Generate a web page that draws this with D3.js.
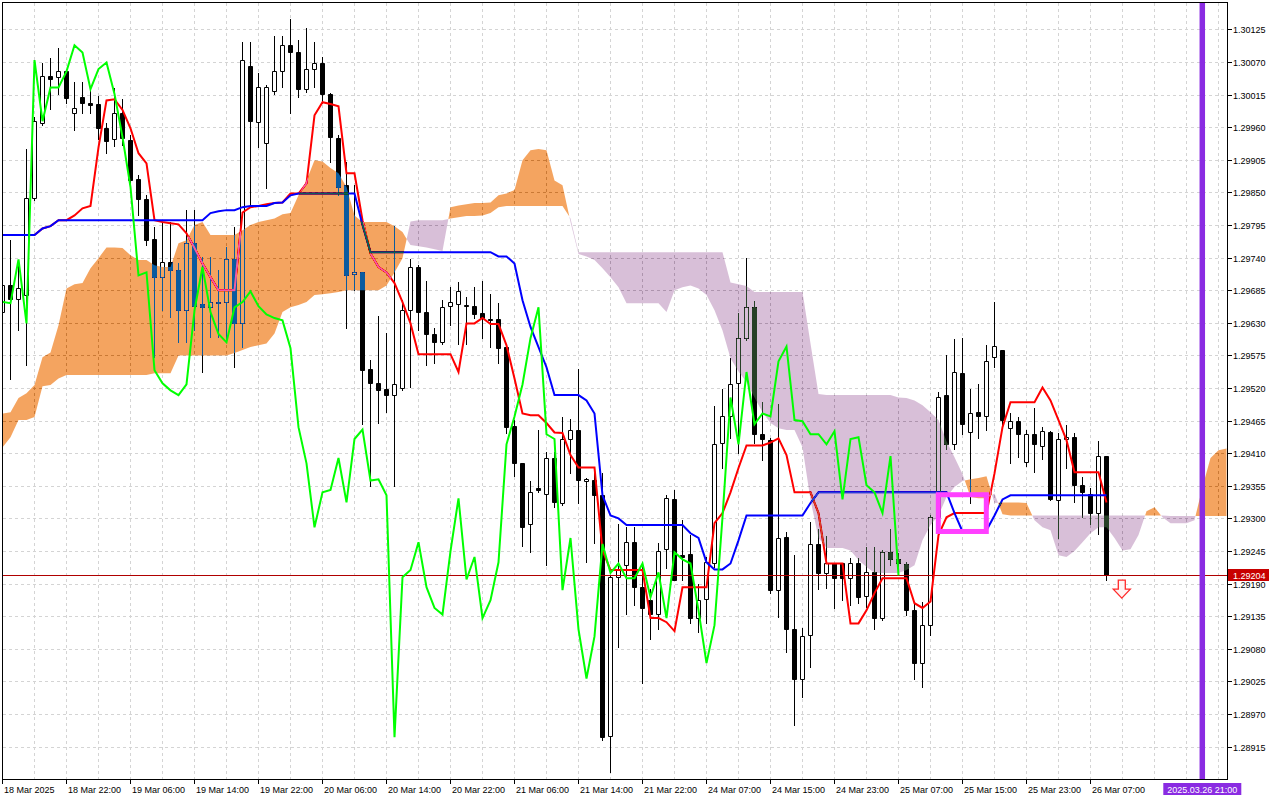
<!DOCTYPE html>
<html><head><meta charset="utf-8"><title>GBPUSD H1 Ichimoku</title>
<script src="https://cdn.jsdelivr.net/npm/d3@7/dist/d3.min.js"></script>
<style>html,body{margin:0;padding:0;background:#fff;overflow:hidden}svg{display:block}</style>
</head><body>
<svg id="chart" width="1280" height="800"></svg>
<script>
// ---------------- DATA (prices) ----------------
const openP=[
1.29648,1.29693,1.29670,1.29677,1.29840,1.29967,1.30046,1.30044,1.30054,1.29983,
1.30010,1.30000,1.29999,1.29958,1.29940,1.29983,1.29938,1.29872,1.29838,1.29771,
1.29707,1.29732,1.29719,1.29651,1.29764,1.29661,1.29656,1.29665,1.29665,1.29737,
1.29629,1.30063,1.29968,1.29934,1.30021,1.30054,1.30098,1.30086,1.30024,1.30058,
1.30069,1.30016,1.29941,1.29862,1.29712,1.29715,1.29552,1.29528,1.29518,1.29508,
1.29520,1.29651,1.29724,1.29648,1.29611,1.29597,1.29658,1.29661,1.29660,1.29658,
1.29646,1.29636,1.29636,1.29589,1.29456,1.29393,1.29290,1.29351,1.29341,1.29402,
1.29326,1.29434,1.29450,1.29363,1.29364,1.29339,1.28933,1.29201,1.29221,1.29260,
1.29184,1.29162,1.29138,1.29248,1.29332,1.29238,1.29240,1.29132,1.29164,1.29224,
1.29427,1.29472,1.29528,1.29604,1.29656,1.29442,1.29432,1.29179,1.29268,1.29113,
1.29030,1.29103,1.29257,1.29208,1.29224,1.29224,1.29199,1.29224,1.29169,1.29209,
1.29132,1.29243,1.29231,1.29223,1.29145,1.29056,1.29120,1.29302,1.29508,1.29425,
1.29545,1.29445,1.29479,1.29472,1.29572,1.29584,1.29452,1.29464,1.29395,1.29442,
1.29423,1.29445,1.29331,1.29434,1.29437,1.29356,1.29342,1.29309,1.29405];
const highP=[
1.29727,1.29769,1.29736,1.29923,1.29977,1.30069,1.30076,1.30093,1.30054,1.30036,
1.30036,1.30026,1.30012,1.29967,1.30026,1.30007,1.29946,1.29879,1.29845,1.29791,
1.29800,1.29800,1.29730,1.29820,1.29820,1.29741,1.29741,1.29719,1.29757,1.29791,
1.30103,1.30103,1.30051,1.30031,1.30113,1.30113,1.30142,1.30107,1.30127,1.30103,
1.30078,1.30017,1.29946,1.29901,1.29862,1.29715,1.29567,1.29641,1.29612,1.29793,
1.29668,1.29737,1.29727,1.29700,1.29621,1.29668,1.29690,1.29698,1.29673,1.29690,
1.29700,1.29678,1.29663,1.29592,1.29466,1.29393,1.29363,1.29449,1.29412,1.29412,
1.29471,1.29467,1.29552,1.29368,1.29376,1.29376,1.29204,1.29290,1.29285,1.29285,
1.29224,1.29181,1.29258,1.29339,1.29348,1.29297,1.29272,1.29189,1.29235,1.29489,
1.29518,1.29570,1.29646,1.29739,1.29666,1.29496,1.29435,1.29493,1.29277,1.29238,
1.29115,1.29294,1.29282,1.29270,1.29224,1.29224,1.29233,1.29233,1.29251,1.29251,
1.29246,1.29283,1.29241,1.29226,1.29159,1.29159,1.29305,1.29513,1.29575,1.29602,
1.29604,1.29518,1.29526,1.29592,1.29665,1.29584,1.29477,1.29471,1.29449,1.29486,
1.29454,1.29447,1.29444,1.29457,1.29444,1.29370,1.29351,1.29430,1.29405];
const lowP=[
1.29601,1.29536,1.29617,1.29558,1.29837,1.29963,1.29990,1.30016,1.30000,1.29955,
1.29983,1.29983,1.29940,1.29916,1.29928,1.29930,1.29862,1.29811,1.29761,1.29572,
1.29651,1.29639,1.29597,1.29597,1.29617,1.29547,1.29606,1.29606,1.29601,1.29555,
1.29589,1.29825,1.29926,1.29857,1.30016,1.30027,1.29983,1.30010,1.30019,1.30027,
1.30000,1.29902,1.29845,1.29622,1.29685,1.29459,1.29354,1.29461,1.29479,1.29354,
1.29516,1.29521,1.29617,1.29558,1.29563,1.29595,1.29626,1.29595,1.29594,1.29638,
1.29604,1.29589,1.29563,1.29444,1.29371,1.29253,1.29243,1.29344,1.29221,1.29319,
1.29322,1.29376,1.29326,1.29226,1.29258,1.28926,1.28872,1.29084,1.29138,1.29154,
1.29022,1.29096,1.29113,1.29216,1.29196,1.29196,1.29123,1.29108,1.29123,1.29218,
1.29385,1.29435,1.29410,1.29601,1.29427,1.29398,1.29175,1.29133,1.29074,1.28951,
1.28998,1.29049,1.29181,1.29182,1.29149,1.29162,1.29154,1.29157,1.29150,1.29113,
1.29128,1.29221,1.29213,1.29137,1.29029,1.29015,1.29103,1.29297,1.29417,1.29417,
1.29442,1.29326,1.29435,1.29449,1.29555,1.29452,1.29393,1.29403,1.29388,1.29378,
1.29401,1.29331,1.29267,1.29385,1.29327,1.29302,1.29290,1.29273,1.29196];
const closeP=[
1.29693,1.29670,1.29688,1.29840,1.29970,1.30046,1.30042,1.30054,1.30009,1.29992,
1.30000,1.29997,1.29958,1.29936,1.29983,1.29941,1.29870,1.29838,1.29769,1.29707,
1.29732,1.29719,1.29651,1.29764,1.29658,1.29656,1.29665,1.29663,1.29737,1.29629,
1.30073,1.29970,1.30027,1.30027,1.30054,1.30098,1.30086,1.30024,1.30058,1.30069,
1.30016,1.29943,1.29859,1.29710,1.29715,1.29550,1.29528,1.29516,1.29508,1.29526,
1.29651,1.29724,1.29648,1.29611,1.29597,1.29656,1.29665,1.29683,1.29658,1.29644,
1.29638,1.29634,1.29587,1.29454,1.29393,1.29285,1.29344,1.29348,1.29402,1.29327,
1.29434,1.29450,1.29364,1.29366,1.29339,1.28931,1.29201,1.29213,1.29260,1.29184,
1.29149,1.29138,1.29245,1.29334,1.29197,1.29235,1.29132,1.29162,1.29226,1.29425,
1.29472,1.29526,1.29604,1.29656,1.29442,1.29434,1.29179,1.29267,1.29113,1.29030,
1.29101,1.29257,1.29208,1.29224,1.29199,1.29199,1.29224,1.29167,1.29209,1.29132,
1.29243,1.29231,1.29224,1.29145,1.29056,1.29120,1.29302,1.29504,1.29425,1.29547,
1.29459,1.29477,1.29472,1.29565,1.29590,1.29466,1.29464,1.29442,1.29442,1.29425,
1.29447,1.29332,1.29434,1.29437,1.29356,1.29344,1.29309,1.29405,1.29204];
const tenkan=[
1.29778,1.29778,1.29778,1.29778,1.29778,1.29789,1.29793,1.29803,1.29803,1.29811,
1.29823,1.29827,1.29926,1.30005,1.30007,1.29989,1.29958,1.29916,1.29899,1.29803,
1.29800,1.29798,1.29796,1.29781,1.29756,1.29730,1.29707,1.29685,1.29685,1.29685,
1.29816,1.29825,1.29827,1.29830,1.29832,1.29833,1.29848,1.29848,1.29865,1.29980,
1.30002,1.29999,1.29995,1.29882,1.29882,1.29803,1.29747,1.29724,1.29715,1.29697,
1.29665,1.29629,1.29577,1.29577,1.29577,1.29577,1.29577,1.29547,1.29629,1.29629,
1.29638,1.29628,1.29628,1.29592,1.29536,1.29477,1.29474,1.29474,1.29461,1.29445,
1.29444,1.29407,1.29386,1.29386,1.29386,1.29246,1.29213,1.29213,1.29213,1.29213,
1.29213,1.29132,1.29132,1.29125,1.29110,1.29184,1.29184,1.29184,1.29184,1.29292,
1.29309,1.29344,1.29385,1.29423,1.29423,1.29423,1.29428,1.29435,1.29407,1.29344,
1.29344,1.29344,1.29309,1.29224,1.29224,1.29224,1.29123,1.29123,1.29145,1.29174,
1.29199,1.29199,1.29199,1.29199,1.29157,1.29149,1.29160,1.29272,1.29302,1.29309,
1.29309,1.29309,1.29309,1.29309,1.29376,1.29454,1.29496,1.29496,1.29496,1.29496,
1.29521,1.29499,1.29466,1.29432,1.29378,1.29378,1.29378,1.29378,1.29327];
const kijun=[
1.29778,1.29778,1.29778,1.29778,1.29778,1.29789,1.29793,1.29803,1.29803,1.29803,
1.29803,1.29803,1.29803,1.29803,1.29803,1.29803,1.29803,1.29803,1.29803,1.29803,
1.29803,1.29803,1.29803,1.29803,1.29803,1.29803,1.29815,1.29818,1.29820,1.29820,
1.29825,1.29827,1.29827,1.29827,1.29832,1.29833,1.29845,1.29848,1.29848,1.29848,
1.29848,1.29848,1.29848,1.29848,1.29848,1.29795,1.29749,1.29749,1.29749,1.29749,
1.29749,1.29749,1.29749,1.29749,1.29749,1.29749,1.29749,1.29749,1.29749,1.29749,
1.29749,1.29749,1.29742,1.29742,1.29730,1.29668,1.29623,1.29589,1.29555,1.29508,
1.29508,1.29508,1.29508,1.29499,1.29477,1.29339,1.29305,1.29300,1.29289,1.29289,
1.29289,1.29289,1.29289,1.29289,1.29289,1.29289,1.29275,1.29267,1.29226,1.29214,
1.29214,1.29224,1.29263,1.29305,1.29305,1.29305,1.29305,1.29305,1.29305,1.29305,
1.29305,1.29326,1.29344,1.29344,1.29344,1.29344,1.29344,1.29344,1.29344,1.29344,
1.29344,1.29344,1.29344,1.29344,1.29344,1.29344,1.29344,1.29344,1.29344,1.29309,
1.29278,1.29277,1.29277,1.29280,1.29305,1.29332,1.29339,1.29339,1.29339,1.29339,
1.29339,1.29339,1.29339,1.29339,1.29339,1.29339,1.29339,1.29339,1.29339];
const spanA=[
1.29477,1.29479,1.29503,1.29511,1.29525,1.29572,1.29580,1.29626,1.29688,1.29695,
1.29697,1.29722,1.29739,1.29757,1.29757,1.29756,1.29744,1.29736,1.29736,1.29727,
1.29724,1.29724,1.29764,1.29769,1.29795,1.29800,1.29778,1.29778,1.29778,1.29778,
1.29786,1.29795,1.29800,1.29803,1.29806,1.29813,1.29815,1.29845,1.29870,1.29904,
1.29902,1.29891,1.29882,1.29859,1.29811,1.29800,1.29800,1.29800,1.29800,1.29793,
1.29783,1.29761,1.29759,1.29757,1.29754,1.29751,1.29825,1.29828,1.29830,1.29832,
1.29832,1.29833,1.29845,1.29848,1.29854,1.29904,1.29921,1.29923,1.29921,1.29870,
1.29862,1.29800,1.29746,1.29742,1.29736,1.29722,1.29707,1.29690,1.29663,1.29663,
1.29663,1.29663,1.29663,1.29648,1.29685,1.29690,1.29693,1.29688,1.29677,1.29651,
1.29617,1.29570,1.29548,1.29530,1.29504,1.29479,1.29461,1.29452,1.29449,1.29449,
1.29420,1.29331,1.29267,1.29250,1.29250,1.29250,1.29246,1.29230,1.29218,1.29208,
1.29208,1.29208,1.29208,1.29213,1.29221,1.29263,1.29289,1.29305,1.29336,1.29353,
1.29363,1.29366,1.29368,1.29371,1.29326,1.29327,1.29327,1.29327,1.29326,1.29297,
1.29285,1.29280,1.29238,1.29235,1.29245,1.29260,1.29275,1.29285,1.29285,1.29267,
1.29246,1.29248,1.29272,1.29312,1.29319,1.29302,1.29292,1.29292,1.29292,1.29297,
1.29353,1.29402,1.29415,1.29418];
const spanB=[
1.29420,1.29437,1.29466,1.29466,1.29471,1.29523,1.29525,1.29536,1.29542,1.29542,
1.29542,1.29542,1.29542,1.29542,1.29542,1.29542,1.29542,1.29542,1.29542,1.29545,
1.29545,1.29545,1.29575,1.29575,1.29575,1.29575,1.29575,1.29575,1.29575,1.29579,
1.29584,1.29589,1.29592,1.29595,1.29612,1.29648,1.29656,1.29660,1.29665,1.29677,
1.29678,1.29680,1.29682,1.29685,1.29685,1.29685,1.29685,1.29685,1.29693,1.29715,
1.29739,1.29801,1.29803,1.29803,1.29803,1.29803,1.29806,1.29808,1.29810,1.29810,
1.29811,1.29815,1.29825,1.29827,1.29827,1.29827,1.29827,1.29827,1.29827,1.29827,
1.29827,1.29806,1.29749,1.29749,1.29749,1.29749,1.29749,1.29749,1.29749,1.29749,
1.29749,1.29749,1.29749,1.29749,1.29749,1.29749,1.29749,1.29749,1.29749,1.29749,
1.29749,1.29698,1.29695,1.29692,1.29682,1.29682,1.29682,1.29682,1.29682,1.29682,
1.29682,1.29595,1.29510,1.29508,1.29508,1.29508,1.29508,1.29508,1.29508,1.29508,
1.29508,1.29508,1.29504,1.29503,1.29499,1.29491,1.29479,1.29466,1.29430,1.29403,
1.29375,1.29336,1.29334,1.29334,1.29342,1.29307,1.29305,1.29305,1.29305,1.29305,
1.29305,1.29305,1.29305,1.29305,1.29305,1.29305,1.29305,1.29305,1.29305,1.29305,
1.29305,1.29305,1.29305,1.29305,1.29305,1.29305,1.29304,1.29304,1.29304,1.29304,
1.29304,1.29304,1.29304,1.29304];
const chikouShift=26;
const priceTicks=["1.30125","1.30070","1.30015","1.29960","1.29905","1.29850","1.29795","1.29740",
"1.29685","1.29630","1.29575","1.29520","1.29465","1.29410","1.29355","1.29300","1.29245",
"1.29190","1.29135","1.29080","1.29025","1.28970","1.28915"];
const timeLabels=["18 Mar 2025","18 Mar 22:00","19 Mar 06:00","19 Mar 14:00","19 Mar 22:00",
"20 Mar 06:00","20 Mar 14:00","20 Mar 22:00","21 Mar 06:00","21 Mar 14:00","21 Mar 22:00",
"24 Mar 07:00","24 Mar 15:00","24 Mar 23:00","25 Mar 07:00","25 Mar 15:00","25 Mar 23:00","26 Mar 07:00"];
const timeLabelIdx=[0,8,16,24,32,40,48,56,64,72,80,88,96,104,112,120,128,136];
const lastPrice=1.29204;
const markerIdx=150, markerLabel="2025.03.26 21:00";
const boxIdx=[117,123], boxPrice=[1.29340,1.29278];
const arrowIdx=140, arrowPrice=1.29196;

// ---------------- DRAW ----------------
const svg=d3.select("#chart");
svg.append("rect").attr("width",1280).attr("height",800).attr("fill","#fff");
const X=d3.scaleLinear().domain([0,150]).range([2.3,1202.3]);
const Y=d3.scaleLinear().domain([1.28915,1.30125]).range([746.7,29.3]);
const cx=i=>Math.round(X(i))+0.5;
const ry=v=>Math.round(Y(v));

svg.append("defs").append("clipPath").attr("id","clipPlot")
  .append("rect").attr("x",3).attr("y",3).attr("width",1224).attr("height",776);
const plot=svg.append("g").attr("clip-path","url(#clipPlot)");
plot.append("rect").attr("width",1280).attr("height",800).attr("fill","#fff");

// grid
const gridColor="#d4d4d4";
plot.selectAll("line.hg").data(priceTicks).join("line").attr("class","hg")
  .attr("x1",3).attr("x2",1227).attr("y1",d=>ry(+d)+0.5).attr("y2",d=>ry(+d)+0.5)
  .attr("stroke",gridColor).attr("stroke-dasharray","3,3");
plot.selectAll("line.vg").data(d3.range(4,153,4)).join("line").attr("class","vg")
  .attr("x1",d=>cx(d)).attr("x2",d=>cx(d)).attr("y1",3).attr("y2",779)
  .attr("stroke",gridColor).attr("stroke-dasharray","3,3");

// candles
const idx=d3.range(closeP.length);
plot.selectAll("line.wick").data(idx).join("line").attr("class","wick")
  .attr("x1",cx).attr("x2",cx).attr("y1",i=>ry(highP[i])).attr("y2",i=>ry(lowP[i])+1)
  .attr("stroke","#000").attr("stroke-width",1);
plot.selectAll("path.body").data(idx).join("path").attr("class","body")
  .attr("d",i=>{const t=ry(Math.max(openP[i],closeP[i]))+0.5,b=ry(Math.min(openP[i],closeP[i]))+0.5,x0=cx(i)-2;
    return `M${x0},${t}H${x0+4}V${b}H${x0}Z`;})
  .attr("fill",i=>closeP[i]>=openP[i]?"#fff":"#000").attr("stroke","#000").attr("stroke-width",1);

// price line
plot.append("line").attr("x1",3).attr("x2",1227).attr("y1",ry(lastPrice)+0.5).attr("y2",ry(lastPrice)+0.5)
  .attr("stroke","#b00000").attr("stroke-width",1);

// tenkan / kijun
const ln=d3.line().x(d=>cx(d[0])).y(d=>Y(d[1]));
plot.append("path").attr("d",ln(tenkan.map((v,i)=>[i,v]))).attr("fill","none").attr("stroke","#ff0000").attr("stroke-width",2);
plot.append("path").attr("d",ln(kijun.map((v,i)=>[i,v]))).attr("fill","none").attr("stroke","#0000ff").attr("stroke-width",2);

// cloud (inverted colours blended with difference -> sandybrown / thistle on white, XOR look over marks)
const cpts=[];
for(let i=0;i<spanA.length;i++){
  cpts.push({t:i,a:spanA[i],b:spanB[i]});
  if(i<spanA.length-1){
    const d0=spanA[i]-spanB[i], d1=spanA[i+1]-spanB[i+1];
    if(d0*d1<0){const f=d0/(d0-d1);const v=spanA[i]+(spanA[i+1]-spanA[i])*f;cpts.push({t:i+f,a:v,b:v});}
  }
}
const orangeArea=d3.area().x(d=>X(d.t)+0.2).y0(d=>Y(d.b)).y1(d=>Y(Math.max(d.a,d.b)));
const purpleArea=d3.area().x(d=>X(d.t)+0.2).y0(d=>Y(d.a)).y1(d=>Y(Math.max(d.a,d.b)));
plot.append("path").attr("d",orangeArea(cpts)).attr("fill","#0b5b9f").style("mix-blend-mode","difference");
plot.append("path").attr("d",purpleArea(cpts)).attr("fill","#274027").style("mix-blend-mode","difference");

// chikou
const chikou=d3.range(closeP.length-chikouShift).map(i=>[i,closeP[i+chikouShift]]);
plot.append("path").attr("d",ln(chikou)).attr("fill","none").attr("stroke","#00ff00").attr("stroke-width",2);

// magenta box
plot.append("rect").attr("x",X(boxIdx[0])).attr("y",Y(boxPrice[0]))
  .attr("width",X(boxIdx[1])-X(boxIdx[0])).attr("height",Y(boxPrice[1])-Y(boxPrice[0]))
  .attr("fill","none").attr("stroke","#ff40ff").attr("stroke-width",5);

// arrow
{const c=X(arrowIdx)-0.5, t=Y(arrowPrice);
 plot.append("path").attr("d",`M${c-3.5},${t}V${t+9}H${c-8.5}L${c},${t+18}L${c+8.5},${t+9}H${c+3.5}V${t}Z`)
  .attr("fill","#fff4f4").attr("stroke","#ff2a2a").attr("stroke-width",1.3);}

// vertical marker line
plot.append("line").attr("x1",X(markerIdx)).attr("x2",X(markerIdx)).attr("y1",0).attr("y2",780)
  .attr("stroke","#8a2be2").attr("stroke-width",5.5);

// frame
svg.append("rect").attr("x",2.5).attr("y",2.5).attr("width",1225).attr("height",777)
  .attr("fill","none").attr("stroke","#000").attr("stroke-width",1);

// axes text
const ff="'Liberation Sans', Arial, sans-serif";
const ax=svg.append("g").attr("font-family",ff).attr("font-size","9px").attr("fill","#000");
ax.selectAll("line.pt").data(priceTicks).join("line").attr("class","pt")
  .attr("x1",1228).attr("x2",1232).attr("y1",d=>ry(+d)+0.5).attr("y2",d=>ry(+d)+0.5).attr("stroke","#000");
ax.selectAll("text.pl").data(priceTicks).join("text").attr("class","pl")
  .attr("x",1233).attr("y",d=>ry(+d)+3.5).text(d=>d);
ax.selectAll("line.tt").data(timeLabelIdx).join("line").attr("class","tt")
  .attr("x1",d=>cx(d)).attr("x2",d=>cx(d)).attr("y1",780).attr("y2",784).attr("stroke","#000");
ax.selectAll("text.tl").data(timeLabelIdx).join("text").attr("class","tl")
  .attr("x",d=>cx(d)+1.5).attr("y",792.5).text((d,i)=>timeLabels[i]);

// last price label
svg.append("rect").attr("x",1228).attr("y",ry(lastPrice)-6).attr("width",41).attr("height",12).attr("fill","#c80000");
svg.append("text").attr("x",1233).attr("y",ry(lastPrice)+3.5).attr("font-family",ff).attr("font-size","9px")
  .attr("fill","#fff").text(lastPrice.toFixed(5));

// marker time label
svg.append("rect").attr("x",X(markerIdx)-39).attr("y",783).attr("width",78).attr("height",12).attr("fill","#8a2be2");
svg.append("text").attr("x",X(markerIdx)).attr("y",792.5).attr("text-anchor","middle").attr("font-family",ff)
  .attr("font-size","9px").attr("fill","#fff").text(markerLabel);
</script>
</body></html>
